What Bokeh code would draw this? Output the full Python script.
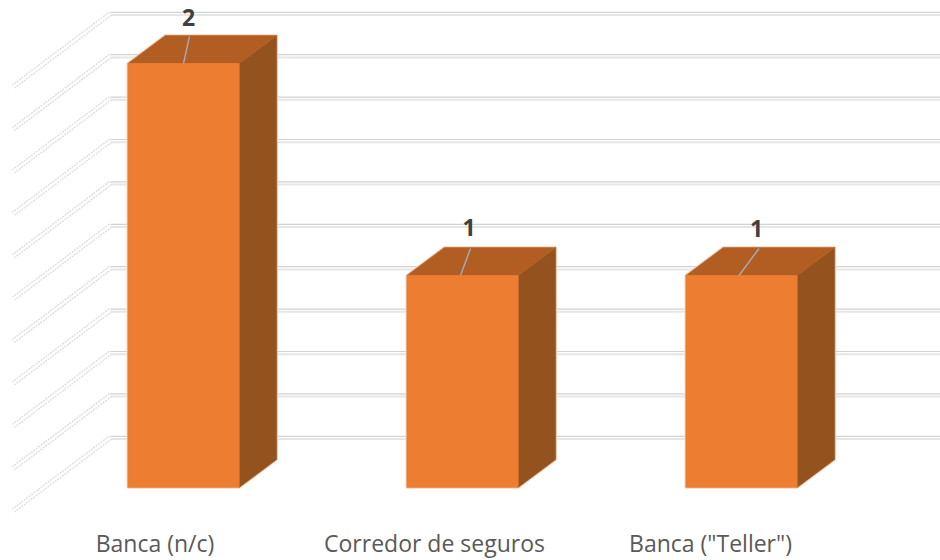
from bokeh.plotting import figure
from bokeh.models import Range1d
from bokeh.core.properties import value
from bokeh.embed import file_html
from bokeh.resources import INLINE

categories = ["Banca (n/c)", "Corredor de seguros", 'Banca ("Teller")']
values = [2, 1, 1]
grid_values = [0.0, 0.2, 0.4, 0.6, 0.8, 1.0, 1.2, 1.4, 1.6, 1.8, 2.0]

# picture scale: pixels per category and per unit of value
PX_X = 279.0
PX_Y = 212.0
W, H = 940, 560
x0_page, y0_page = 183.0, 487.0

def dx(px):
    return px / PX_X

def dy(px):
    return px / PX_Y

p = figure(width=W, height=H, output_backend="svg", toolbar_location=None,
           x_range=Range1d(-x0_page / PX_X, (W - x0_page) / PX_X),
           y_range=Range1d((y0_page - H) / PX_Y, y0_page / PX_Y),
           min_border=0, min_border_left=0, min_border_right=0,
           min_border_top=0, min_border_bottom=0, outline_line_color=None)
p.axis.visible = False
p.grid.visible = False
p.background_fill_color = "white"
p.border_fill_color = "white"

# walls
wall_x = (110 - x0_page) / PX_X
wall_lift = dy(50)
right = (W - x0_page) / PX_X
for g in grid_values:
    y = g + wall_lift
    xs = [wall_x, wall_x - dx(97)]
    ys = [y, y - dy(73)]
    p.line(xs, ys, line_color="#dcdcdc", line_width=5, line_dash="2 1")
    p.line(xs, ys, line_color="#ffffff", line_width=2.4)
    p.line([wall_x, right], [y + dy(1.2), y + dy(1.2)], line_color="#d2d2d2", line_width=1.2)
    p.line([wall_x, right], [y - dy(1.5), y - dy(1.5)], line_color="#e6e6e6", line_width=2)

# bars
half = dx(55.7)
d_x, d_y = dx(37.5), dy(28)
halo = "#f7d3ba"
leader_tip = [6, 8, 17.5]
leader_base = [0, -2, -2.5]
label_lift = [46.5, 48, 47.5]
label_x = [5, 6.5, 15]
for i, v in enumerate(values):
    L, R = i - half, i + half
    p.patch([L, R, R + d_x, R + d_x, L + d_x, L],
            [0, 0, d_y, v + d_y, v + d_y, v],
            fill_color=halo, line_color=halo, line_width=2.5)
    p.patch([R, R + d_x, R + d_x, R], [0, d_y, v + d_y, v],
            fill_color="#94521f", line_color="#94521f", line_width=0.5)
    p.patch([L, L + d_x, R + d_x, R], [v, v + d_y, v + d_y, v],
            fill_color="#b25e23", line_color="#b25e23", line_width=0.5)
    p.patch([L, R, R, L], [0, 0, v, v],
            fill_color="#ed7d31", line_color="#ed7d31", line_width=0.5)
    # leader line and data label
    p.line([i + dx(leader_base[i]), i + dx(leader_tip[i])], [v, v + dy(27)],
           line_color="#a5adb4", line_width=1.4)
    p.text([i + dx(label_x[i])], [v + dy(label_lift[i])], text=[str(v)],
           text_font=value("Open Sans"), text_font_style="bold", text_font_size="23px",
           text_color="#404040", text_align="center", text_baseline="middle")

# category labels
label_shift = [-28.5, -28, -31]
for i, c in enumerate(categories):
    p.text([i + dx(label_shift[i])], [-dy(55)], text=[c], text_font=value("Open Sans"),
           text_font_size="23px", text_color="#595959",
           text_align="center", text_baseline="middle")

open("out.html", "w").write(file_html(p, INLINE))
